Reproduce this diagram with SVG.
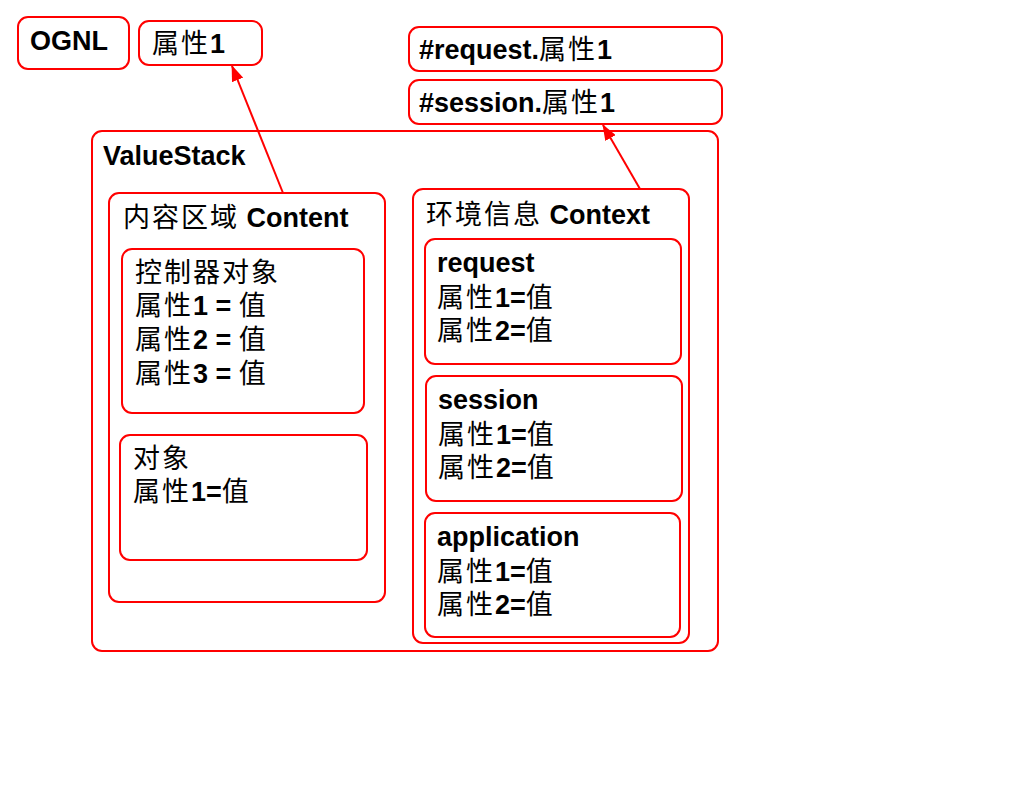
<svg xmlns="http://www.w3.org/2000/svg" width="1024" height="796" viewBox="0 0 1024 796">
<style>
.box{fill:#fff;stroke:#ff0000;stroke-width:2}
.cont{fill:none;stroke:#ff0000;stroke-width:2}
text{font-family:"Liberation Sans","Noto Sans CJK SC",sans-serif;font-size:27px;font-weight:bold;fill:#000}
.c{font-family:"Noto Sans CJK SC","Liberation Sans",sans-serif;font-weight:normal;letter-spacing:2px}
.edge{stroke:#ff0000;stroke-width:2;fill:none;marker-end:url(#arr)}
</style>
<defs>
<marker id="arr" viewBox="0 0 16 12" refX="15" refY="6" markerWidth="16" markerHeight="12" orient="auto" markerUnits="userSpaceOnUse">
<path d="M0,0 L16,6 L0,12 z" fill="#ff0000"/>
</marker>
</defs>
<rect width="1024" height="796" fill="#fff"/>
<g id="ognl"><rect class="box" x="18" y="17" width="111" height="52" rx="10"/><text x="30" y="50">OGNL</text></g>
<g id="attr1"><rect class="box" x="139" y="21" width="123" height="44" rx="10"/><text x="152" y="53"><tspan class="c">属性</tspan>1</text></g>
<g id="reqattr"><rect class="box" x="409" y="27" width="313" height="44" rx="10"/><text x="419" y="59">#request.<tspan class="c">属性</tspan>1</text></g>
<g id="sesattr"><rect class="box" x="409" y="80" width="313" height="44" rx="10"/><text x="419" y="112">#session.<tspan class="c">属性</tspan>1</text></g>
<g id="valuestack"><rect class="cont" x="92" y="131" width="626" height="520" rx="10"/><text x="103" y="165">ValueStack</text></g>
<g id="content"><rect class="cont" x="109" y="193" width="276" height="409" rx="10"/><text x="123" y="227"><tspan class="c">内容区域</tspan> Content</text></g>
<g id="controller"><rect class="cont" x="122" y="249" width="242" height="164" rx="10"/>
<text x="135" y="282"><tspan class="c">控制器对象</tspan></text>
<text x="135" y="315"><tspan class="c">属性</tspan>1 = <tspan class="c">值</tspan></text>
<text x="135" y="349"><tspan class="c">属性</tspan>2 = <tspan class="c">值</tspan></text>
<text x="135" y="383"><tspan class="c">属性</tspan>3 = <tspan class="c">值</tspan></text></g>
<g id="object"><rect class="cont" x="120" y="435" width="247" height="125" rx="10"/>
<text x="133" y="468"><tspan class="c">对象</tspan></text>
<text x="133" y="501"><tspan class="c">属性</tspan>1=<tspan class="c">值</tspan></text></g>
<g id="context"><rect class="cont" x="413" y="189" width="276" height="454" rx="10"/><text x="426" y="224"><tspan class="c">环境信息</tspan> Context</text></g>
<g id="request"><rect class="cont" x="425" y="239" width="256" height="125" rx="10"/>
<text x="437" y="272">request</text>
<text x="437" y="307"><tspan class="c">属性</tspan>1=<tspan class="c">值</tspan></text>
<text x="437" y="340"><tspan class="c">属性</tspan>2=<tspan class="c">值</tspan></text></g>
<g id="session"><rect class="cont" x="426" y="376" width="256" height="125" rx="10"/>
<text x="438" y="409">session</text>
<text x="438" y="444"><tspan class="c">属性</tspan>1=<tspan class="c">值</tspan></text>
<text x="438" y="477"><tspan class="c">属性</tspan>2=<tspan class="c">值</tspan></text></g>
<g id="application"><rect class="cont" x="425" y="513" width="255" height="124" rx="10"/>
<text x="437" y="546">application</text>
<text x="437" y="581"><tspan class="c">属性</tspan>1=<tspan class="c">值</tspan></text>
<text x="437" y="614"><tspan class="c">属性</tspan>2=<tspan class="c">值</tspan></text></g>
<g id="connectors">
<line class="edge" x1="283" y1="193" x2="232" y2="66"/>
<line class="edge" x1="640" y1="189" x2="603" y2="125"/>
</g>
</svg>
